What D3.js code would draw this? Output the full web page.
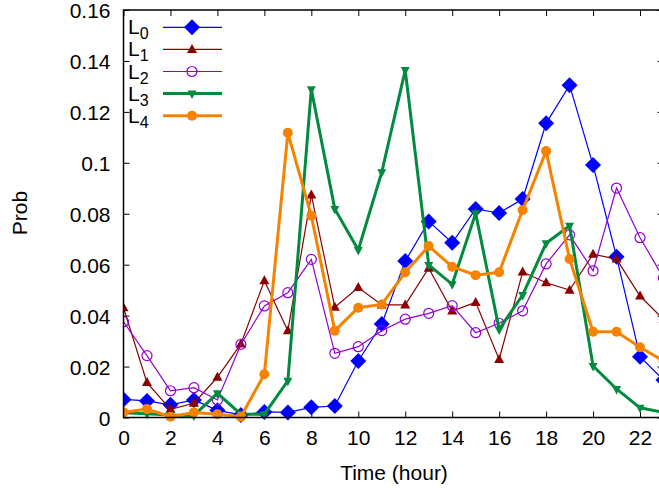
<!DOCTYPE html>
<html>
<head>
<meta charset="utf-8">
<script src="https://cdn.jsdelivr.net/npm/d3@7"></script>
<style>
body { margin: 0; background: #fff; }
svg { display: block; font-family: "Liberation Sans", Arial, sans-serif; }
</style>
</head>
<body>
<script>
// hour of day
var hours = [0, 1, 2, 3, 4, 5, 6, 7, 8, 9, 10, 11, 12, 13, 14, 15, 16, 17, 18, 19, 20, 21, 22, 23];

var l0 = [0.0071, 0.0065, 0.0050, 0.0069, 0.0028, 0.0010, 0.0022, 0.0020, 0.0040, 0.0045, 0.0222, 0.0367, 0.0614, 0.0770, 0.0686, 0.0819, 0.0803, 0.0858, 0.1155, 0.1305, 0.0991, 0.0631, 0.0239, 0.0147];
var l1 = [0.0431, 0.0137, 0.0032, 0.0056, 0.0158, 0.0289, 0.0537, 0.0341, 0.0874, 0.0433, 0.0510, 0.0442, 0.0442, 0.0586, 0.0418, 0.0452, 0.0228, 0.0571, 0.0529, 0.0500, 0.0641, 0.0622, 0.0477, 0.0385];
var l2 = [0.0376, 0.0243, 0.0105, 0.0117, 0.0069, 0.0287, 0.0438, 0.0490, 0.0621, 0.0252, 0.0278, 0.0341, 0.0386, 0.0409, 0.0439, 0.0333, 0.0370, 0.0419, 0.0603, 0.0717, 0.0576, 0.0901, 0.0706, 0.0548];
var l3 = [0.0019, 0.0015, 0.0010, 0.0008, 0.0095, 0.0013, 0.0013, 0.0144, 0.1289, 0.0819, 0.0658, 0.0963, 0.1364, 0.0599, 0.0523, 0.0802, 0.0346, 0.0481, 0.0684, 0.0753, 0.0202, 0.0112, 0.0038, 0.0020];
var l4 = [0.0020, 0.0033, 0.0003, 0.0020, 0.0013, 0.0003, 0.0170, 0.1118, 0.0792, 0.0341, 0.0431, 0.0444, 0.0570, 0.0673, 0.0592, 0.0559, 0.0570, 0.0815, 0.1046, 0.0622, 0.0337, 0.0337, 0.0276, 0.0222];

var xTicks = [0, 2, 4, 6, 8, 10, 12, 14, 16, 18, 20, 22];
var yTicks = [0, 0.02, 0.04, 0.06, 0.08, 0.1, 0.12, 0.14, 0.16];
var yTickLabels = ["0", "0.02", "0.04", "0.06", "0.08", "0.1", "0.12", "0.14", "0.16"];

var series = [
  {sub: "0", values: l0, color: "#0000ff", width: 1.2, marker: "diamond"},
  {sub: "1", values: l1, color: "#8b0000", width: 1.2, marker: "triangle"},
  {sub: "2", values: l2, color: "#9400d3", width: 1.2, marker: "ring"},
  {sub: "3", values: l3, color: "#008b3e", width: 3, marker: "down"},
  {sub: "4", values: l4, color: "#f58300", width: 3, marker: "dot"}
];

(function() {
var W = 659, H = 492;
var pl = 123.5, pr = 663.5, pt = 10, pb = 417.5;
var font = "Liberation Sans, Arial, sans-serif";

var svg = d3.select("body").append("svg").attr("width", W).attr("height", H);

var x = d3.scaleLinear().domain([0, 23]).range([pl, pr]);
var y = d3.scaleLinear().domain([0, 0.16]).range([pb, pt]);

var drawMarker = function(g, kind, cx, cy, color) {
  if (kind === "diamond") {
    g.append("path").attr("d", "M" + cx + "," + (cy - 8) + "L" + (cx + 8) + "," + cy + "L" + cx + "," + (cy + 8) + "L" + (cx - 8) + "," + cy + "Z").attr("fill", color);
  } else if (kind === "triangle") {
    g.append("path").attr("d", "M" + cx + "," + (cy - 5.5) + "L" + (cx + 5) + "," + (cy + 3.5) + "L" + (cx - 5) + "," + (cy + 3.5) + "Z").attr("fill", color);
  } else if (kind === "down") {
    g.append("path").attr("d", "M" + cx + "," + (cy + 5.5) + "L" + (cx + 4.5) + "," + (cy - 3) + "L" + (cx - 4.5) + "," + (cy - 3) + "Z").attr("fill", color);
  } else if (kind === "ring") {
    g.append("circle").attr("cx", cx).attr("cy", cy).attr("r", 5).attr("fill", "none").attr("stroke", color).attr("stroke-width", 1.2);
  } else {
    g.append("circle").attr("cx", cx).attr("cy", cy).attr("r", 5).attr("fill", color);
  }
};

// axes: ticks point inward, mirrored on top/right
var axisG = svg.append("g");
axisG.append("g").attr("transform", "translate(" + pl + ",0)")
  .call(d3.axisLeft(y).tickValues(yTicks).tickSizeInner(-6).tickSizeOuter(0).tickFormat(function(d, i) { return yTickLabels[i]; }))
  .call(function(g) {
    g.select(".domain").remove();
    g.selectAll("text").attr("x", -13).attr("dy", "0.36em");
  });
axisG.append("g").attr("transform", "translate(" + pr + ",0)")
  .call(d3.axisRight(y).tickValues(yTicks).tickSizeInner(-6).tickSizeOuter(0).tickFormat(""))
  .call(function(g) { g.select(".domain").remove(); });
axisG.append("g").attr("transform", "translate(0," + pb + ")")
  .call(d3.axisBottom(x).tickValues(xTicks).tickSizeInner(-6).tickSizeOuter(0))
  .call(function(g) {
    g.select(".domain").remove();
    g.selectAll("text").attr("y", 13).attr("dy", "0.71em");
  });
axisG.append("g").attr("transform", "translate(0," + pt + ")")
  .call(d3.axisTop(x).tickValues(xTicks).tickSizeInner(-6).tickSizeOuter(0).tickFormat(""))
  .call(function(g) { g.select(".domain").remove(); });
axisG.selectAll("g").attr("font-size", 21).attr("font-family", font);
axisG.selectAll("line").attr("stroke", "#000").attr("stroke-width", 1);
axisG.selectAll("text").attr("fill", "#000");

// plot area
var clip = svg.append("clipPath").attr("id", "plotclip");
clip.append("rect").attr("x", pl).attr("y", pt - 10).attr("width", pr - pl + 10).attr("height", pb - pt + 20);

var plot = svg.append("g").attr("clip-path", "url(#plotclip)");
var line = d3.line().x(function(d, i) { return x(hours[i]); }).y(function(d) { return y(d); });

series.forEach(function(s) {
  plot.append("path").datum(s.values).attr("d", line)
    .attr("fill", "none").attr("stroke", s.color).attr("stroke-width", s.width).attr("stroke-linejoin", "miter");
  var mg = plot.append("g");
  s.values.forEach(function(v, i) { drawMarker(mg, s.marker, x(hours[i]), y(v), s.color); });
});

// border
svg.append("rect").attr("x", pl).attr("y", pt).attr("width", pr - pl).attr("height", pb - pt)
  .attr("fill", "none").attr("stroke", "#000").attr("stroke-width", 1.5);

// legend
var key = svg.append("g");
series.forEach(function(s, i) {
  var ly = 27.3 + i * 22.1;
  var t = key.append("text").attr("x", 128).attr("y", ly + 7).attr("font-size", 21).attr("fill", "#000");
  t.append("tspan").text("L");
  t.append("tspan").attr("dy", 5).attr("font-size", 16).text(s.sub);
  key.append("line").attr("x1", 163).attr("x2", 222).attr("y1", ly).attr("y2", ly)
    .attr("stroke", s.color).attr("stroke-width", s.width);
  drawMarker(key, s.marker, 192, ly, s.color);
});

// axis titles
svg.append("text").attr("x", 394).attr("y", 480).attr("text-anchor", "middle").attr("font-size", 21).text("Time (hour)");
svg.append("text").attr("transform", "translate(27,213) rotate(-90)").attr("text-anchor", "middle").attr("font-size", 21).text("Prob");
})();
</script>
</body>
</html>
